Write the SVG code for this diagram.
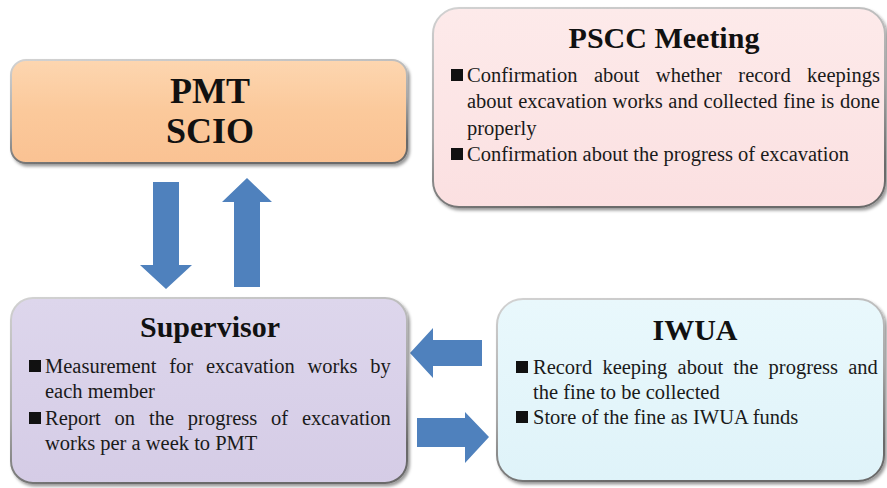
<svg xmlns="http://www.w3.org/2000/svg" width="887" height="488" viewBox="0 0 887 488">
  <defs>
    <linearGradient id="gPeach" x1="0" y1="0" x2="0" y2="1">
      <stop offset="0" stop-color="#fdd6b0"/>
      <stop offset="0.5" stop-color="#fbc99b"/>
      <stop offset="1" stop-color="#fac293"/>
    </linearGradient>
    <linearGradient id="gPink" x1="0" y1="0" x2="0" y2="1">
      <stop offset="0" stop-color="#fdeaea"/>
      <stop offset="1" stop-color="#fbe0e1"/>
    </linearGradient>
    <linearGradient id="gLav" x1="0" y1="0" x2="0" y2="1">
      <stop offset="0" stop-color="#ddd6ec"/>
      <stop offset="1" stop-color="#d5cce6"/>
    </linearGradient>
    <linearGradient id="gCyan" x1="0" y1="0" x2="0" y2="1">
      <stop offset="0" stop-color="#e9f8fc"/>
      <stop offset="1" stop-color="#dff3f9"/>
    </linearGradient>
    <!-- bevelled edge: light at the top left, dark at the bottom right -->
    <linearGradient id="edge" x1="0" y1="0" x2="0.3" y2="1">
      <stop offset="0" stop-color="#d2d2d2"/>
      <stop offset="0.6" stop-color="#a8a8a8"/>
      <stop offset="1" stop-color="#6a6a6a"/>
    </linearGradient>
    <filter id="shadow" x="-5%" y="-5%" width="115%" height="120%">
      <feDropShadow dx="2" dy="2.5" stdDeviation="1.6" flood-color="#000" flood-opacity="0.4"/>
    </filter>
  </defs>
  <style>
    .box { stroke: url(#edge); stroke-width: 2; filter: url(#shadow); }
    .title { font-family: "Liberation Serif", "Times New Roman", serif; font-weight: bold; fill: #111; text-anchor: middle; }
    .body { font-family: "Liberation Serif", "Times New Roman", serif; font-size: 20.5px; fill: #1a1a1a; }
    .bullet { fill: #111; }
    .arrow { fill: #4f81bd; }
  </style>

  <rect width="887" height="488" fill="#ffffff"/>

  <g id="connectors">
    <!-- PMT down to Supervisor -->
    <polygon class="arrow" points="153,182 179,182 179,265 192,265 166,289 140,265 153,265"/>
    <!-- Supervisor up to PMT -->
    <polygon class="arrow" points="247,178 272,202 260,202 260,287 234,287 234,202 222,202"/>
    <!-- IWUA to Supervisor -->
    <polygon class="arrow" points="410,353 433,328 433,340 482,340 482,366 433,366 433,378"/>
    <!-- Supervisor to IWUA -->
    <polygon class="arrow" points="489,437 465,463 465,447 417,447 417,418 465,418 465,412"/>
  </g>

  <g id="node-pmt">
    <rect class="box" x="11" y="60" width="396" height="103" rx="15" fill="url(#gPeach)"/>
    <text class="title" x="210" y="103" font-size="36">PMT</text>
    <text class="title" x="210" y="143" font-size="36">SCIO</text>
  </g>

  <g id="node-pscc">
    <rect class="box" x="433" y="8" width="452" height="199" rx="26" fill="url(#gPink)"/>
    <text class="title" x="664" y="48" font-size="30">PSCC Meeting</text>
    <rect class="bullet" x="451" y="69" width="12" height="12"/>
    <text class="body" x="467" y="82" word-spacing="11.3">Confirmation about whether record keepings</text>
    <text class="body" x="467" y="108" word-spacing="0.5">about excavation works and collected fine is done</text>
    <text class="body" x="467" y="135">properly</text>
    <rect class="bullet" x="451" y="148" width="12" height="12"/>
    <text class="body" x="467" y="161">Confirmation about the progress of excavation</text>
  </g>

  <g id="node-supervisor">
    <rect class="box" x="11" y="298" width="396" height="185" rx="22" fill="url(#gLav)"/>
    <text class="title" x="210" y="337" font-size="30">Supervisor</text>
    <rect class="bullet" x="29" y="360" width="12" height="12"/>
    <text class="body" x="45" y="373" word-spacing="7.6">Measurement for excavation works by</text>
    <text class="body" x="45" y="398">each member</text>
    <rect class="bullet" x="29" y="412" width="12" height="12"/>
    <text class="body" x="45" y="425" word-spacing="8.7">Report on the progress of excavation</text>
    <text class="body" x="45" y="450">works per a week to PMT</text>
  </g>

  <g id="node-iwua">
    <rect class="box" x="497" y="299" width="387" height="182" rx="26" fill="url(#gCyan)"/>
    <text class="title" x="695" y="340" font-size="30">IWUA</text>
    <rect class="bullet" x="516" y="361" width="12" height="12"/>
    <text class="body" x="533" y="374" word-spacing="5.1">Record keeping about the progress and</text>
    <text class="body" x="533" y="399">the fine to be collected</text>
    <rect class="bullet" x="516" y="411" width="12" height="12"/>
    <text class="body" x="533" y="424">Store of the fine as IWUA funds</text>
  </g>
</svg>
